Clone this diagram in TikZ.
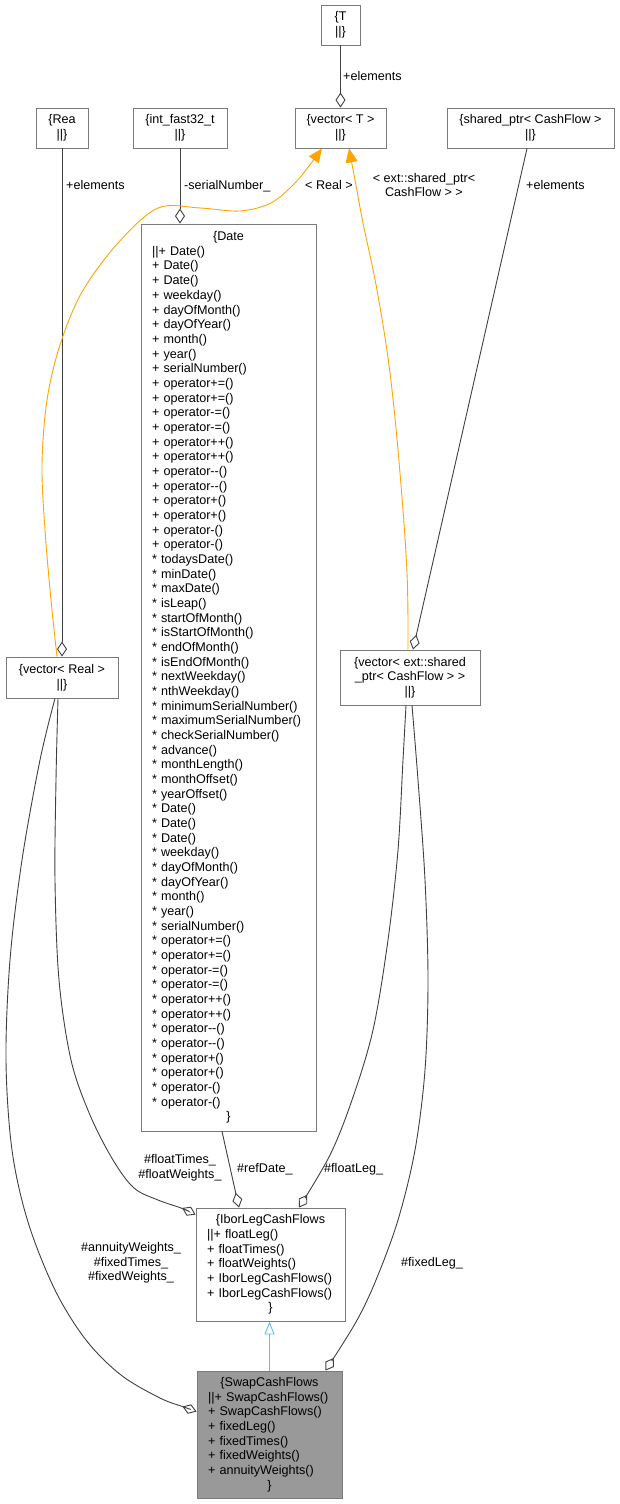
\documentclass[tikz,border=0pt]{standalone}
\usepackage{fontspec}
\setmainfont{Liberation Sans}
\usetikzlibrary{arrows.meta}
\definecolor{edgec}{HTML}{404040}
\definecolor{bordc}{HTML}{7A7A7A}
\definecolor{tmplc}{HTML}{FFA500}
\definecolor{inhc}{HTML}{63B8FF}
\definecolor{swapfill}{HTML}{999999}
\newcommand\fsz{\fontsize{12.6}{14.67}\selectfont}
\newcommand\cl[1]{\makebox[\linewidth]{#1}}
\tikzset{
  cls/.style={draw=bordc, line width=0.9pt, fill=white, inner xsep=11pt, inner ysep=0pt, align=left, font=\fsz},
  smallbox/.style={draw=bordc, line width=0.9pt, fill=white, inner sep=0pt, align=center, font=\fsz},
  lbl/.style={inner sep=0pt, font=\fsz, align=center},
  agg/.style={draw=edgec, line width=0.9pt, -{Diamond[open,length=15pt,width=10pt]}},
  tpl/.style={draw=tmplc, line width=0.9pt, -{Triangle[length=14pt,width=12pt]}},
  inh/.style={draw=inhc, line width=0.9pt, -{Triangle[open,length=13pt,width=10pt]}},
}
\begin{document}
\begin{tikzpicture}[x=1pt,y=-1pt]
\useasboundingbox (0,0) rectangle (619,1504);
% top row
\node[smallbox, minimum width=39pt, minimum height=40pt] (T) at (340.5,25) {\{T\\||\}};
\node[smallbox, minimum width=91pt, minimum height=40pt] (vT) at (340.5,128) {\{vector< T >\\||\}};
\node[smallbox, minimum width=52pt, minimum height=40pt] (rea) at (62,128) {\{Rea\\||\}};
\node[smallbox, minimum width=94pt, minimum height=40pt] (int) at (180,128) {\{int\_fast32\_t\\||\}};
\node[smallbox, minimum width=167pt, minimum height=40pt] (sp) at (530.5,128) {\{shared\_ptr< CashFlow >\\||\}};
% middle
\node[smallbox, minimum width=112pt, minimum height=41pt] (vreal) at (62,677.5) {\{vector< Real >\\||\}};
\node[smallbox, minimum width=140pt, minimum height=55pt] (vsh) at (410,677.5) {\{vector< ext::shared\\\_ptr< CashFlow > >\\||\}};
\node[cls, text width=153pt, minimum height=907pt] (date) at (228.5,677.5) {\cl{\{Date}\\
||+ Date()\\
+ Date()\\
+ Date()\\
+ weekday()\\
+ dayOfMonth()\\
+ dayOfYear()\\
+ month()\\
+ year()\\
+ serialNumber()\\
+ operator+=()\\
+ operator+=()\\
+ operator-=()\\
+ operator-=()\\
+ operator++()\\
+ operator++()\\
+ operator-{}-()\\
+ operator-{}-()\\
+ operator+()\\
+ operator+()\\
+ operator-()\\
+ operator-()\\
{*} todaysDate()\\
{*} minDate()\\
{*} maxDate()\\
{*} isLeap()\\
{*} startOfMonth()\\
{*} isStartOfMonth()\\
{*} endOfMonth()\\
{*} isEndOfMonth()\\
{*} nextWeekday()\\
{*} nthWeekday()\\
{*} minimumSerialNumber()\\
{*} maximumSerialNumber()\\
{*} checkSerialNumber()\\
{*} advance()\\
{*} monthLength()\\
{*} monthOffset()\\
{*} yearOffset()\\
{*} Date()\\
{*} Date()\\
{*} Date()\\
{*} weekday()\\
{*} dayOfMonth()\\
{*} dayOfYear()\\
{*} month()\\
{*} year()\\
{*} serialNumber()\\
{*} operator+=()\\
{*} operator+=()\\
{*} operator-=()\\
{*} operator-=()\\
{*} operator++()\\
{*} operator++()\\
{*} operator-{}-()\\
{*} operator-{}-()\\
{*} operator+()\\
{*} operator+()\\
{*} operator-()\\
{*} operator-()\\
\cl{\}}};
% bottom
\node[cls, text width=127pt, minimum height=113pt] (ibor) at (270.5,1264.5) {\cl{\{IborLegCashFlows}\\
||+ floatLeg()\\
+ floatTimes()\\
+ floatWeights()\\
+ IborLegCashFlows()\\
+ IborLegCashFlows()\\
\cl{\}}};
\node[cls, fill=swapfill, text width=123pt, minimum height=127pt] (swap) at (269.5,1434.5) {\cl{\{SwapCashFlows}\\
||+ SwapCashFlows()\\
+ SwapCashFlows()\\
+ fixedLeg()\\
+ fixedTimes()\\
+ fixedWeights()\\
+ annuityWeights()\\
\cl{\}}};
% labels
\node[lbl, anchor=west] (l1) at (343,76) {+elements};
\node[lbl, anchor=west] (l2) at (66,185) {+elements};
\node[lbl, anchor=west] (l3) at (184,186) {-serialNumber\_};
\node[lbl] (l4) at (329,185) {< Real >};
\node[lbl] (l5) at (424,185) {< ext::shared\_ptr<\\CashFlow > >};
\node[lbl, anchor=west] (l6) at (526,185) {+elements};
\node[lbl] (l7) at (180,1168) {\#floatTimes\_\\\#floatWeights\_};
\node[lbl, anchor=west] (l8) at (237,1169) {\#refDate\_};
\node[lbl, anchor=west] (l9) at (324,1169) {\#floatLeg\_};
\node[lbl] (l10) at (131,1263) {\#annuityWeights\_\\\#fixedTimes\_\\\#fixedWeights\_};
\node[lbl, anchor=west] (l11) at (401,1263) {\#fixedLeg\_};
% straight aggregation edges
\draw[agg] (T.south) -- (vT.north);
\draw[agg] (rea.south) -- (vreal.north);
\draw[agg] (int.south) -- (int.south |- date.north);
\draw[agg] ([xshift=-3.5pt]sp.south) -- ([xshift=3pt]vsh.north);
\draw[agg] ([xshift=-6.5pt]date.south) -- ([xshift=-31.5pt]ibor.north);
% template edges
\draw[tpl] plot[smooth, tension=0.55] coordinates {([xshift=-5pt]vreal.north) (51,600) (45,530) (42,465) (47,400) (60,345) (82,292) (118,243) (158,208) (200,208) (240,211) (271,203) (294,184) (309,166) ([xshift=-18.5pt]vT.south)};
\draw[tpl] plot[smooth, tension=0.6] coordinates {([xshift=-2pt]vsh.north) (407,573) (400,473) (390,373) (377,290) (363,223) (355,180) ([xshift=8.5pt]vT.south)};
% curved aggregation edges
\draw[agg] plot[smooth, tension=0.55] coordinates {([xshift=-4pt]vreal.south) (56,780) (55,880) (59,980) (71,1060) (90,1115) (113,1160) (134,1188) (158,1200) (181,1208) ([yshift=-7pt]ibor.north west)};
\draw[agg] plot[smooth, tension=0.55] coordinates {([xshift=-7pt]vreal.south) (40,760) (22,860) (10,960) (6,1060) (12,1150) (28,1222) (55,1290) (86,1340) (121,1375) (160,1398) (184,1407) ([yshift=-41pt]swap.north west)};
\draw[agg] plot[smooth, tension=0.55] coordinates {([xshift=-4pt]vsh.south) (403,760) (398,850) (388,940) (373,1030) (352,1100) (330,1155) ([xshift=28.5pt]ibor.north)};
\draw[agg] plot[smooth, tension=0.55] coordinates {([xshift=2pt]vsh.south) (418,780) (425,880) (428,980) (425,1070) (415,1150) (398,1220) (376,1280) (356,1322) ([xshift=56pt]swap.north)};
% inheritance
\draw[inh] (swap.north) -- (swap.north |- ibor.south);
\end{tikzpicture}
\end{document}
